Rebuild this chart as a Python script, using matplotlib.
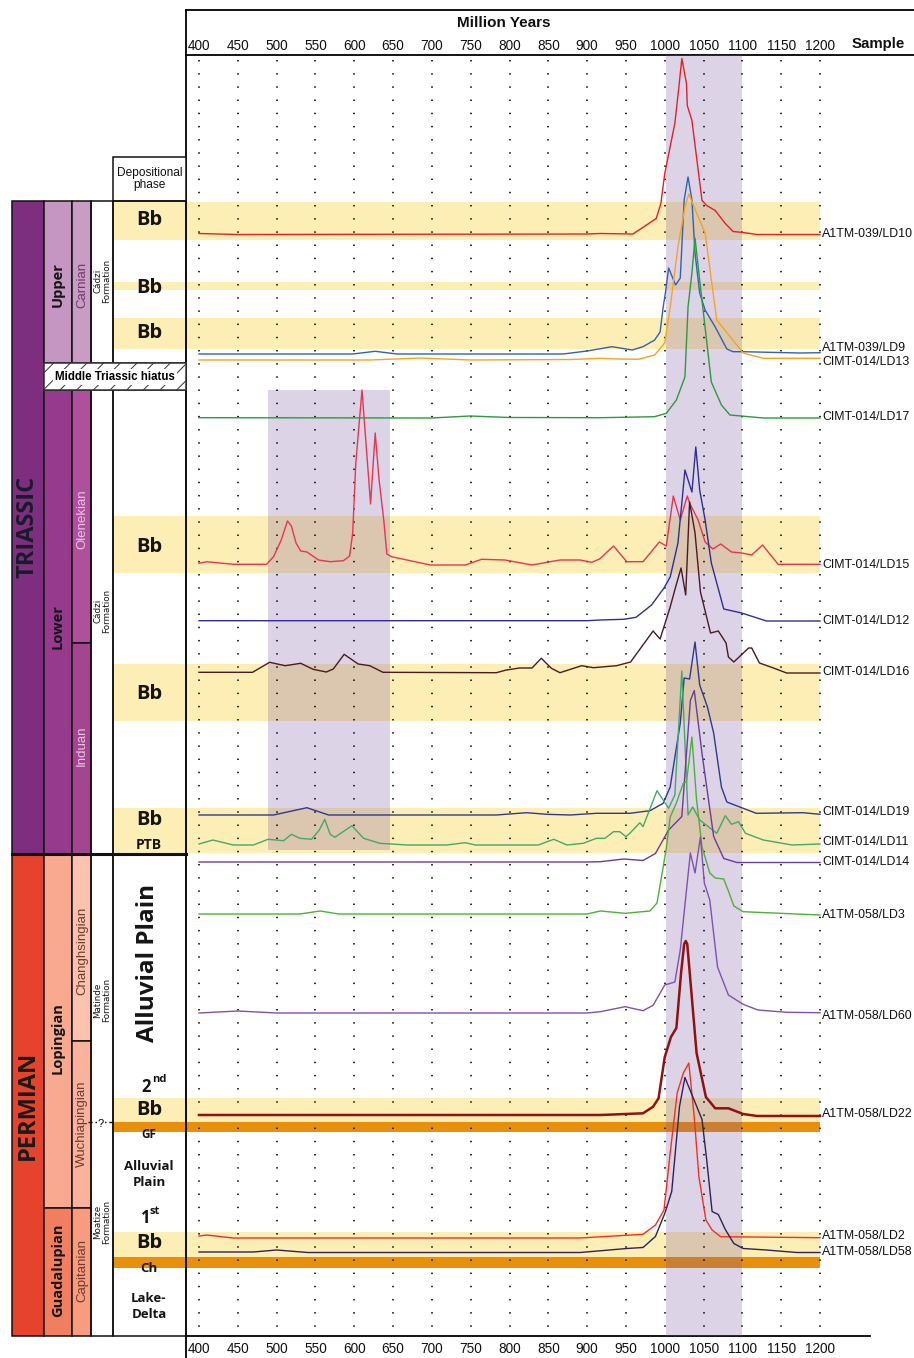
import matplotlib
matplotlib.use('Agg')
import matplotlib.pyplot as plt
from matplotlib.patches import Rectangle
from matplotlib.transforms import ScaledTranslation
from matplotlib import font_manager

# ---------------- DATA ----------------
ticks = list(range(400, 1201, 50))
samples = ['A1TM-039/LD10', 'A1TM-039/LD9', 'CIMT-014/LD13', 'CIMT-014/LD17', 'CIMT-014/LD15',
           'CIMT-014/LD12', 'CIMT-014/LD16', 'CIMT-014/LD19', 'CIMT-014/LD11', 'CIMT-014/LD14',
           'A1TM-058/LD3', 'A1TM-058/LD60', 'A1TM-058/LD22', 'A1TM-058/LD2', 'A1TM-058/LD58']

LD10_age = [400, 450, 900, 917, 959, 989, 995, 1000, 1013, 1018, 1022, 1028, 1029, 1035, 1048, 1054, 1065, 1078, 1088, 1101, 1119, 1200]
LD10_prob = [1, 0, 0.5, 1, 0.5, 16, 31, 61, 111, 146, 176, 151, 129, 114, 34, 29, 24, 11, 3, 2, 0, 0]

LD9_age = [400, 598, 627, 655, 869, 900, 932, 958, 972, 987, 994, 998, 1001, 1005, 1014, 1020, 1025, 1030, 1035, 1039, 1045, 1052, 1065, 1080, 1088, 1101, 1174, 1200]
LD9_prob = [0, 0, 2.7, 0, 0, 3, 7.3, 4, 7.3, 14, 22, 47, 62, 86, 69, 76, 154, 177, 154, 101, 61, 44, 27, 5, 2.3, 2.3, 1, 1.3]

LD13_age = [400, 620, 685, 750, 880, 917, 940, 966, 987, 1000, 1007, 1017, 1026, 1031, 1041, 1052, 1063, 1067, 1101, 1127, 1200]
LD13_prob = [0, 0, 2, 0, 0.5, 1.7, 1, 0.7, 5, 17, 53, 113, 153, 166, 147, 127, 63, 40, 7, 1.7, 1.7]

LD17_age = [400, 700, 749, 800, 917, 987, 1002, 1015, 1026, 1030, 1035, 1039, 1045, 1060, 1073, 1084, 1127, 1200]
LD17_prob = [0.3, 0, 2, 0.5, 0.3, 1.3, 4.7, 18, 41, 111, 145, 180, 138, 36, 13, 3, 0, 0]

LD15_age = [400, 410, 444, 487, 496, 506, 514, 519, 525, 531, 539, 554, 569, 586, 594, 598, 602, 610, 621, 627,
            632, 638, 642, 648, 668, 698, 743, 764, 794, 829, 865, 891, 906, 916, 934, 951, 972, 993, 1002, 1011,
            1020, 1029, 1032, 1043, 1052, 1062, 1072, 1086, 1099, 1112, 1126, 1146, 1200]
LD15_prob = [1.7, 3.3, 0.7, 0.7, 8.3, 25, 44, 39, 22, 14, 13, 5, 3.3, 4.3, 9, 32, 102, 175, 61, 132,
             85, 45, 11, 8.3, 5, 0, 0, 5.7, 5, 0, 5, 5, 2.7, 6, 19, 3.3, 3.3, 23, 19, 69,
             45, 69, 62, 45, 23, 16, 21, 13, 12, 10, 20, 0.7, 0.7]

LD12_age = [400, 900, 917, 947, 963, 983, 999, 1007, 1017, 1022, 1026, 1035, 1040, 1045, 1052, 1060, 1076, 1099, 1131, 1200]
LD12_prob = [0.3, 0.3, 1, 1.7, 3.7, 16, 33, 44, 78, 118, 151, 129, 174, 131, 101, 58, 12, 8, 0, 0]

LD16_age = [400, 469, 491, 511, 531, 547, 564, 573, 587, 605, 620, 637, 783, 796, 813, 829, 841, 854, 865, 893,
            908, 938, 956, 985, 994, 1007, 1014, 1021, 1027, 1032, 1039, 1046, 1059, 1069, 1079, 1082, 1089, 1108,
            1112, 1122, 1140, 1157, 1200]
LD16_prob = [0.7, 0.7, 10.7, 7.3, 9.7, 3.7, 1, 4, 18.7, 9, 7.3, 0.7, 0.3, 3, 5, 5, 14.7, 4.7, 0.3, 7.3,
             5.3, 7.3, 11, 42, 34, 66, 86, 105, 78, 171, 140, 81, 40, 42, 30, 16, 11, 25,
             25, 10, 5, 0, 0]

LD19_age = [400, 496, 539, 567, 646, 783, 822, 848, 878, 912, 955, 981, 998, 1007, 1020, 1025, 1032, 1039, 1045, 1055, 1063, 1073, 1080, 1101, 1118, 1178, 1200]
LD19_prob = [0, 0, 7.3, 0, 0, 0, 2.3, 0.7, 0, 1.7, 1.7, 4.3, 11.7, 28, 92, 137, 136, 173, 130, 108, 82, 28, 13, 6.7, 1.7, 2.3, 0.7]

LD11_age = [400, 418, 444, 470, 489, 509, 519, 530, 545, 555, 562, 569, 575, 597, 612, 633, 668, 719, 743, 756,
            837, 857, 874, 895, 912, 923, 934, 942, 950, 955, 968, 972, 990, 1005, 1013, 1022, 1030, 1036, 1045,
            1067, 1078, 1086, 1095, 1104, 1127, 1164, 1200]
LD11_prob = [1, 5, 0, 0, 5.7, 4.3, 10.7, 6.7, 5.7, 15, 25.7, 10.7, 7.7, 19.3, 6.7, 1.7, 0, 0, 2.3, 0,
             0, 5.7, 0, 1.7, 6.7, 6.7, 13.3, 13.3, 8.3, 11.7, 22.3, 18.3, 54.3, 36.7, 50, 174, 30, 38, 25,
             11.7, 29.3, 20.7, 23.3, 11.7, 5, 0, 1]

LD14_age = [400, 900, 917, 947, 972, 988, 1005, 1022, 1033, 1038, 1048, 1063, 1076, 1093, 1200]
LD14_prob = [0.5, 0.5, 0.8, 3.5, 2, 9, 32.5, 46, 162, 172, 109, 26, 4, 0, 0]

LD3_age = [400, 530, 556, 580, 900, 917, 949, 981, 990, 998, 1002, 1007, 1015, 1024, 1028, 1035, 1041, 1048, 1058, 1065, 1076, 1082, 1089, 1101, 1200]
LD3_prob = [1, 1, 4, 1, 1, 4, 1.7, 4, 12, 48, 67, 98, 112, 132, 133, 178, 115, 68, 42, 37, 36, 24, 9, 3.3, 0]

LD60_age = [400, 450, 500, 900, 917, 949, 972, 985, 1000, 1013, 1020, 1028, 1033, 1039, 1046, 1051, 1058, 1068, 1082, 1101, 1120, 1157, 1200]
LD60_prob = [0, 2, 0, 0, 1.3, 6.3, 2.3, 7.7, 28, 31, 63, 123, 160, 140, 176, 130, 113, 46, 18, 8.7, 3, 0.7, 0.3]

LD22_age = [400, 900, 917, 972, 985, 992, 1000, 1008, 1015, 1021, 1025, 1027, 1029, 1041, 1053, 1065, 1082, 1101, 1119, 1200]
LD22_prob = [1, 1, 1, 2.7, 9.3, 17.7, 59, 79, 88, 143, 172, 175, 172, 63, 19, 7.7, 7.7, 2, 0, 0]

LD2_age = [400, 410, 444, 891, 935, 972, 988, 999, 1007, 1016, 1024, 1031, 1038, 1044, 1053, 1061, 1072, 1200]
LD2_prob = [2, 3, 0, 0, 2, 3.7, 13, 28, 85, 145, 165, 175, 121, 61, 18, 8, 1.3, 0.3]

LD58_age = [400, 470, 500, 540, 891, 951, 972, 988, 1000, 1009, 1019, 1026, 1037, 1048, 1054, 1061, 1069, 1078, 1089, 1101, 1131, 1170, 1200]
LD58_prob = [0.5, 0.5, 2.5, 0, 0, 4, 5, 16, 39, 61, 146, 175, 154, 133, 93, 41, 38, 23, 9, 4, 2.5, 0, 0]

series_age = [LD10_age, LD9_age, LD13_age, LD17_age, LD15_age, LD12_age, LD16_age, LD19_age,
              LD11_age, LD14_age, LD3_age, LD60_age, LD22_age, LD2_age, LD58_age]
series_prob = [LD10_prob, LD9_prob, LD13_prob, LD17_prob, LD15_prob, LD12_prob, LD16_prob, LD19_prob,
               LD11_prob, LD14_prob, LD3_prob, LD60_prob, LD22_prob, LD2_prob, LD58_prob]
for a, p in zip(series_age, series_prob):
    assert len(a) == len(p), (len(a), len(p))

# ---------------- LAYOUT / STYLE ----------------
baselines = [234.5, 354, 360, 418, 565, 621, 673, 815, 845, 862.5, 915, 1013, 1116, 1238, 1252.5]
label_y = [234, 348, 362, 417, 565, 621, 672, 812, 842, 862, 915, 1016, 1114, 1236, 1252]
colors = ['#E4202B', '#2F63B0', '#F8A31E', '#2A9B3E', '#E6364F', '#2E308F', '#4B1A22', '#2D3A8E',
          '#42A96A', '#6B3C9B', '#4DB136', '#7F52AE', '#8E1212', '#EF3124', '#2C2456']
widths = [1.0] * 12 + [1.8, 1.0, 1.0]

names = {f.name for f in font_manager.fontManager.ttflist}
HAS_NARROW = 'Liberation Sans Narrow' in names


def narrow(size, weight='normal', fallback=None):
    if HAS_NARROW:
        return dict(family='Liberation Sans Narrow', fontsize=size, fontweight=weight)
    return dict(family='Liberation Sans', fontsize=fallback if fallback else size * 0.84, fontweight=weight)


BOLD = dict(family='Open Sans', fontweight='bold')
W, H = 914, 1358
fig = plt.figure(figsize=(W / 100, H / 100), dpi=100)

axL = fig.add_axes([0, 0, 1, 1], zorder=0)
axL.set_xlim(0, W)
axL.set_ylim(H, 0)
axL.axis('off')

px_per_ma = 621 / 800.0
x0_ma = 400 - (199 - 186) / px_per_ma
x1_ma = 400 + (914 - 199) / px_per_ma
ax = fig.add_axes([186 / W, (H - 1336) / H, (W - 186) / W, (1336 - 55) / H], zorder=1)
ax.set_xlim(x0_ma, x1_ma)
ax.set_ylim(1336, 55)
ax.patch.set_alpha(0)
for s in ax.spines.values():
    s.set_visible(False)
ax.set_yticks([])
ax.set_xticks(ticks)
ax.set_xticklabels([str(t) for t in ticks])
ax.tick_params(axis='x', length=0, top=True, labeltop=True, bottom=True, labelbottom=True, pad=1.5)
shift_down = ScaledTranslation(0, -3 / 72, fig.dpi_scale_trans)
for t in ax.xaxis.get_major_ticks():
    for lab in (t.label1, t.label2):
        f = narrow(11, fallback=9.8)
        lab.set_family(f['family'])
        lab.set_fontsize(f['fontsize'])
        lab.set_color('#111111')
    t.label1.set_transform(t.label1.get_transform() + shift_down)

# bands (yellow / orange) in pixel frame
yellow = '#FDEEB6'
orange = '#E8900C'
yellow_bands = [(202, 240), (282, 290), (318, 349), (516, 573), (664, 721), (808, 853), (1098, 1122), (1232, 1257)]
orange_bands = [(1122, 1132), (1257, 1268)]
for y0, y1 in yellow_bands:
    axL.add_patch(Rectangle((113, y0), 820 - 113, y1 - y0, facecolor=yellow, edgecolor='none', zorder=1))
for y0, y1 in orange_bands:
    axL.add_patch(Rectangle((113, y0), 820 - 113, y1 - y0, facecolor=orange, edgecolor='none', zorder=1))

# purple zircon-age windows
purple = (120 / 255, 80 / 255, 160 / 255)
ax.axvspan(1002, 1100, color=purple, alpha=0.25, lw=0, zorder=1)
ax.add_patch(Rectangle((489, 390), 646 - 489, 850 - 390, facecolor=purple, alpha=0.25, lw=0, zorder=1))

# dotted grid
ax.vlines(ticks, 60, 1332, colors='#1a1a1a', linestyles=[(0, (0.8, 6.5))], lw=1.3, zorder=2)

# curves
for age, prob, base, c, lw in zip(series_age, series_prob, baselines, colors, widths):
    ax.plot(age, [base - p for p in prob], color=c, lw=lw, zorder=4, solid_joinstyle='round')

# sample labels
for name, y in zip(samples, label_y):
    axL.text(822, y, name, family='Liberation Sans', fontsize=8.9, va='center', ha='left', color='#111111')

# header
axL.plot([186, 914], [10, 10], color='black', lw=1.3)
axL.plot([186, 914], [55, 55], color='black', lw=1.3)
axL.plot([186, 186], [10, 1358], color='black', lw=1.3)
axL.plot([186, 870], [1336, 1336], color='black', lw=1.3)
axL.text(504, 23, 'Million Years', va='center', ha='center', color='#111111', **narrow(12.5, 'bold', 11))
axL.text(878, 44, 'Sample', va='center', ha='center', color='#111111', **narrow(12.5, 'bold', 10.8))

# ---------------- stratigraphic column ----------------
cells = [
    (12, 44, 201, 854, '#7D2E7F'), (12, 44, 854, 1336, '#E5432B'),
    (44, 72, 201, 363, '#C596C1'), (44, 72, 390, 854, '#953A8C'),
    (44, 72, 854, 1208, '#F9A98F'), (44, 72, 1208, 1336, '#F27E60'),
    (72, 91, 201, 363, '#C99BC5'), (72, 91, 390, 643, '#B0509C'), (72, 91, 643, 854, '#A3468F'),
    (72, 91, 854, 1041, '#FDC2AF'), (72, 91, 1041, 1208, '#FBB29C'), (72, 91, 1208, 1336, '#F99B7E'),
    (91, 113, 201, 363, 'none'), (91, 113, 390, 854, 'none'), (91, 113, 854, 1336, 'none'),
    (113, 186, 157, 201, 'white'), (113, 186, 201, 363, 'none'), (113, 186, 390, 1336, 'none'),
]
for xa, xb, ya, yb, c in cells:
    axL.add_patch(Rectangle((xa, ya), xb - xa, yb - ya, facecolor=c, edgecolor='#111111', lw=1.1, zorder=2))

plt.rcParams['hatch.linewidth'] = 0.7
axL.add_patch(Rectangle((44, 363), 142, 27, facecolor='white', edgecolor='#333333', hatch='//', lw=1.1, zorder=2))
axL.text(115, 377, 'Middle Triassic hiatus', ha='center', va='center', family='Liberation Sans',
         fontweight='bold', fontsize=8.3, zorder=5,
         bbox=dict(facecolor='white', edgecolor='none', pad=1.2))

# PTB thick line
axL.plot([12, 186], [854, 854], color='#111111', lw=2.2, zorder=3)
# Matinde / Moatize boundary (uncertain)
axL.plot([88, 113], [1122, 1122], color='#111111', lw=1.0, ls=(0, (3, 2)), zorder=3)
axL.text(101, 1124, '?', ha='center', va='center', family='Liberation Sans', fontsize=8, zorder=5,
         bbox=dict(facecolor='white', edgecolor='none', pad=0.5))

axL.text(149.5, 179, 'Depositional\nphase', ha='center', va='center', linespacing=1.1,
         color='#111111', zorder=5, **narrow(10.5, fallback=8.6))

TXT = '#151515'
for y in [220, 288, 333, 547, 694, 820, 1110, 1243]:
    axL.text(149, y, 'Bb', ha='center', va='center', fontsize=14.5, color=TXT, zorder=5, **BOLD)
axL.text(149, 845, 'PTB', ha='center', va='center', fontsize=10, color=TXT, zorder=5, **BOLD)

# periods
axL.text(28, 527, 'TRIASSIC', rotation=90, ha='center', va='center', fontsize=17, color='#1a1a2a', zorder=5, **BOLD)
axL.text(28, 1105, 'PERMIAN', rotation=90, ha='center', va='center', fontsize=17, color='#1a1a1a', zorder=5, **BOLD)
# epochs
for txt, y in [('Upper', 285), ('Lower', 627), ('Lopingian', 1038), ('Guadalupian', 1270)]:
    axL.text(58, y, txt, rotation=90, ha='center', va='center', fontsize=10.5, color=TXT, zorder=5, **BOLD)
# stages
for txt, y, c in [('Carnian', 285, '#6B3A6B'), ('Olenekian', 519, '#EBC3E5'), ('Induan', 746, '#EBC3E5'),
                  ('Changhsingian', 951, '#6E3A2C'), ('Wuchiapingian', 1124, '#6E3A2C'),
                  ('Capitanian', 1270, '#6E3A2C')]:
    axL.text(82, y, txt, rotation=90, ha='center', va='center', color=c, zorder=5, **narrow(11, fallback=9.5))
# formations
for txt, y in [('Cádzi\nFormation', 281), ('Cádzi\nFormation', 611),
               ('Matinde\nFormation', 1000), ('Moatize\nFormation', 1222)]:
    axL.text(102.5, y, txt, rotation=90, ha='center', va='center', family='DejaVu Sans', fontsize=6.3,
             linespacing=1.0, color=TXT, zorder=5)

# depositional phases (Permian)
axL.text(148, 963, 'Alluvial Plain', rotation=90, ha='center', va='center', fontsize=17.5, color=TXT, zorder=5, **BOLD)
axL.text(146, 1087, '2', ha='center', va='center', fontsize=12, color=TXT, zorder=5, **BOLD)
axL.text(152, 1079, 'nd', ha='left', va='center', fontsize=8, color=TXT, zorder=5, **BOLD)
axL.text(149, 1135, 'GF', ha='center', va='center', fontsize=8.5, color=TXT, zorder=5, **BOLD)
axL.text(149, 1174, 'Alluvial\nPlain', ha='center', va='center', fontsize=9.5, linespacing=1.3, color=TXT, zorder=5, **BOLD)
axL.text(145, 1218, '1', ha='center', va='center', fontsize=12, color=TXT, zorder=5, **BOLD)
axL.text(150, 1212, 'st', ha='left', va='center', fontsize=8, color=TXT, zorder=5, **BOLD)
axL.text(149, 1268, 'Ch', ha='center', va='center', fontsize=9.5, color=TXT, zorder=5, **BOLD)
axL.text(149, 1307, 'Lake-\nDelta', ha='center', va='center', fontsize=9.5, linespacing=1.3, color=TXT, zorder=5, **BOLD)

fig.savefig('out.png', dpi=100)
